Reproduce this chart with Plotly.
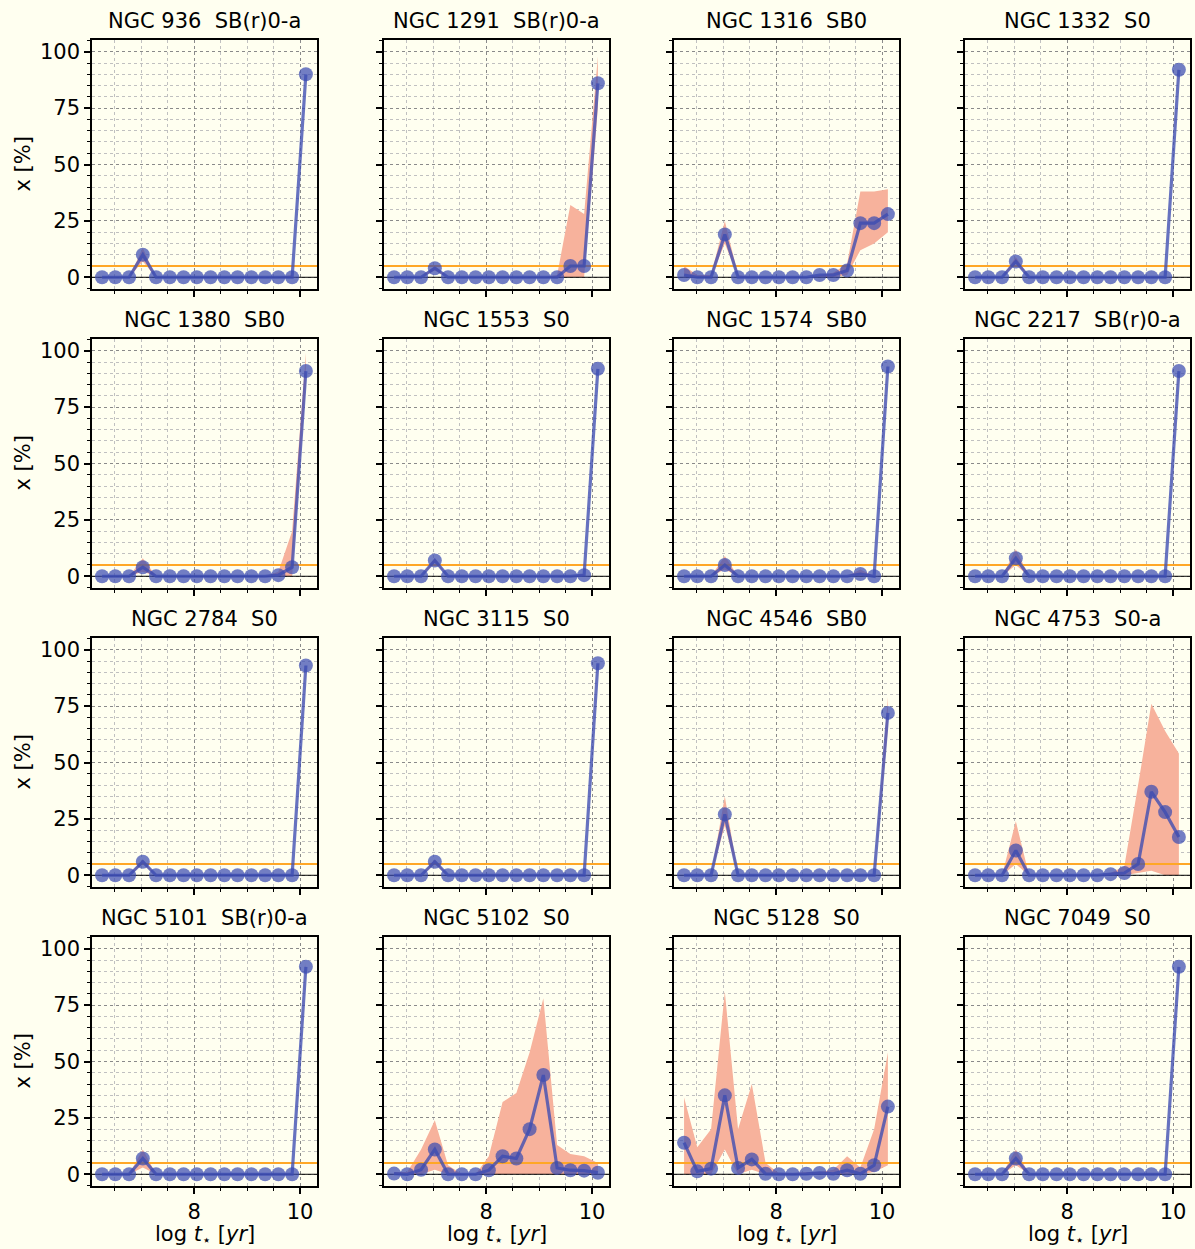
import plotly.graph_objects as go

W, H = 1195, 1249

# ---- data -------------------------------------------------------------
log_age = [6.26, 6.51, 6.77, 7.03, 7.28, 7.54, 7.80, 8.05,
           8.31, 8.57, 8.82, 9.08, 9.34, 9.59, 9.85, 10.11]

n936 = [0, 0, 0, 10, 0, 0, 0, 0, 0, 0, 0, 0, 0, 0, 0, 90]
n936_lo = [0, 0, 0, 7, 0, 0, 0, 0, 0, 0, 0, 0, 0, 0, 0, 88]
n936_hi = [0, 0, 0, 13, 0, 0, 0, 0, 0, 0, 0, 0, 0, 0, 1, 93]

n1291 = [0, 0, 0, 4, 0, 0, 0, 0, 0, 0, 0, 0, 0, 5, 5, 86]
n1291_lo = [0, 0, 0, 3, 0, 0, 0, 0, 0, 0, 0, 0, 0, 0, 0, 75]
n1291_hi = [0, 0, 0, 5, 0, 0, 0, 0, 0, 0, 0, 0, 1, 32, 28, 98]

n1316 = [1, 0, 0, 19, 0, 0, 0, 0, 0, 0, 1, 1, 3, 24, 24, 28]
n1316_lo = [0, 0, 0, 15, 0, 0, 0, 0, 0, 0, 0, 0, 1, 12, 15, 20]
n1316_hi = [5, 1, 1, 25, 1, 0, 0, 0, 0, 0, 1, 2, 6, 38, 38, 39]

n1332 = [0, 0, 0, 7, 0, 0, 0, 0, 0, 0, 0, 0, 0, 0, 0, 92]
n1332_lo = [0, 0, 0, 6, 0, 0, 0, 0, 0, 0, 0, 0, 0, 0, 0, 91]
n1332_hi = [0, 0, 0, 9, 0, 0, 0, 0, 0, 0, 0, 0, 0, 0, 0, 93]

n1380 = [0, 0, 0, 4, 0, 0, 0, 0, 0, 0, 0, 0, 0, 0.5, 4, 91]
n1380_lo = [0, 0, 0, 2, 0, 0, 0, 0, 0, 0, 0, 0, 0, 0, 0, 85]
n1380_hi = [0, 0, 0, 8, 0, 0, 0, 0, 0, 0, 0, 0, 0, 2, 20, 99]

n1553 = [0, 0, 0, 7, 0, 0, 0, 0, 0, 0, 0, 0, 0, 0, 0.5, 92]
n1553_lo = [0, 0, 0, 6, 0, 0, 0, 0, 0, 0, 0, 0, 0, 0, 0, 91]
n1553_hi = [0, 0, 0, 8, 0, 0, 0, 0, 0, 0, 0, 0, 0, 0, 1, 93]

n1574 = [0, 0, 0, 5, 0, 0, 0, 0, 0, 0, 0, 0, 0, 1, 0, 93]
n1574_lo = [0, 0, 0, 3, 0, 0, 0, 0, 0, 0, 0, 0, 0, 0, 0, 92]
n1574_hi = [0, 0, 0, 9, 0, 0, 0, 0, 0, 0, 0, 0, 0, 3, 0, 95]

n2217 = [0, 0, 0, 8, 0, 0, 0, 0, 0, 0, 0, 0, 0, 0, 0, 91]
n2217_lo = [0, 0, 0, 5, 0, 0, 0, 0, 0, 0, 0, 0, 0, 0, 0, 90]
n2217_hi = [0, 0, 0, 12, 0, 0, 0, 0, 0, 0, 0, 0, 0, 0, 0, 93]

n2784 = [0, 0, 0, 6, 0, 0, 0, 0, 0, 0, 0, 0, 0, 0, 0, 93]
n2784_lo = [0, 0, 0, 5, 0, 0, 0, 0, 0, 0, 0, 0, 0, 0, 0, 92]
n2784_hi = [0, 0, 0, 7, 0, 0, 0, 0, 0, 0, 0, 0, 0, 0, 0, 94]

n3115 = [0, 0, 0, 6, 0, 0, 0, 0, 0, 0, 0, 0, 0, 0, 0, 94]
n3115_lo = [0, 0, 0, 5, 0, 0, 0, 0, 0, 0, 0, 0, 0, 0, 0, 93]
n3115_hi = [0, 0, 0, 7, 0, 0, 0, 0, 0, 0, 0, 0, 0, 0, 0, 95]

n4546 = [0, 0, 0, 27, 0, 0, 0, 0, 0, 0, 0, 0, 0, 0, 0, 72]
n4546_lo = [0, 0, 0, 22, 0, 0, 0, 0, 0, 0, 0, 0, 0, 0, 0, 65]
n4546_hi = [0, 0, 0, 35, 0, 0, 0, 0, 0, 0, 0, 0, 0, 0, 0, 79]

n4753 = [0, 0, 0, 11, 0, 0, 0, 0, 0, 0, 0.5, 1, 5, 37, 28, 17]
n4753_lo = [0, 0, 0, 5, 0, 0, 0, 0, 0, 0, 0, 0, 1, 2, 0, 0]
n4753_hi = [0, 0, 0, 24, 0, 0, 0, 0, 0, 0, 1, 4, 40, 76, 64, 54]

n5101 = [0, 0, 0, 7, 0, 0, 0, 0, 0, 0, 0, 0, 0, 0, 0, 92]
n5101_lo = [0, 0, 0, 3, 0, 0, 0, 0, 0, 0, 0, 0, 0, 0, 0, 91]
n5101_hi = [0, 0, 0, 11, 0, 0, 0, 0, 0, 0, 0, 0, 0, 0, 0, 94]

n5102 = [0.3, 0, 2, 11, 0, 0, 0, 1.8, 8, 7, 20, 44, 2.8, 1.8, 1.6, 0.7]
n5102_lo = [0, 0, 0, 2, 0, 0, 0, 0, 0, 0, 0, 0, 0, 0, 0, 0]
n5102_hi = [1, 1, 11, 24, 4, 0, 0, 8, 32, 36, 54, 78, 13, 9, 8, 5]

n5128 = [14, 1.3, 2.5, 35, 2.8, 6.6, 0.2, 0, 0, 0.2, 0.6, 0.2, 1.8, 0.2, 4, 30]
n5128_lo = [0, 0, 0, 11, 0, 2, 0, 0, 0, 0, 0, 0, 0, 0, 1, 4]
n5128_hi = [34, 12, 20, 81, 20, 40, 5, 0.5, 0.5, 1, 1, 2, 8, 3, 20, 54]

n7049 = [0, 0, 0, 7, 0, 0, 0, 0, 0, 0, 0, 0, 0, 0, 0, 92]
n7049_lo = [0, 0, 0, 4, 0, 0, 0, 0, 0, 0, 0, 0, 0, 0, 0, 91]
n7049_hi = [0, 0, 0, 11, 0, 0, 0, 0, 0, 0, 0, 0, 0, 0, 0, 93]

names = ["NGC 936", "NGC 1291", "NGC 1316", "NGC 1332",
         "NGC 1380", "NGC 1553", "NGC 1574", "NGC 2217",
         "NGC 2784", "NGC 3115", "NGC 4546", "NGC 4753",
         "NGC 5101", "NGC 5102", "NGC 5128", "NGC 7049"]
morph = ["SB(r)0-a", "SB(r)0-a", "SB0", "S0",
         "SB0", "S0", "SB0", "SB(r)0-a",
         "S0", "S0", "SB0", "S0-a",
         "SB(r)0-a", "S0", "S0", "S0"]
values = [n936, n1291, n1316, n1332, n1380, n1553, n1574, n2217,
          n2784, n3115, n4546, n4753, n5101, n5102, n5128, n7049]
lows = [n936_lo, n1291_lo, n1316_lo, n1332_lo, n1380_lo, n1553_lo, n1574_lo, n2217_lo,
        n2784_lo, n3115_lo, n4546_lo, n4753_lo, n5101_lo, n5102_lo, n5128_lo, n7049_lo]
highs = [n936_hi, n1291_hi, n1316_hi, n1332_hi, n1380_hi, n1553_hi, n1574_hi, n2217_hi,
         n2784_hi, n3115_hi, n4546_hi, n4753_hi, n5101_hi, n5102_hi, n5128_hi, n7049_hi]

threshold = 5
x_ticks = [8, 10]
x_minor = [6.5, 7, 7.5, 8.5, 9, 9.5]
y_ticks = [0, 25, 50, 75, 100]

# ---- style / layout ---------------------------------------------------
XR = [6.07, 10.32]
YR = [-5.2, 105.2]
BG = "#fffff0"
BLUE_LINE = "rgba(60,76,178,0.78)"
BLUE_MARK = "rgba(60,76,178,0.72)"
FILL = "#f7b29c"
FONT = "DejaVu Sans"
TICK_FS = 21
TEXT_FS = 21

col_left = [92, 384, 674, 965]
panel_w = 225
row_top = [40, 339, 638, 937]
panel_h = 249

fig = go.Figure()
annotations = []

for i in range(16):
    r, c = divmod(i, 4)
    ax = "" if i == 0 else str(i + 1)
    xa, ya = "x" + ax, "y" + ax
    x0 = col_left[c] / W
    x1 = (col_left[c] + panel_w) / W
    y1 = 1 - row_top[r] / H
    y0 = 1 - (row_top[r] + panel_h) / H

    # band
    fig.add_trace(go.Scatter(
        x=log_age + log_age[::-1], y=highs[i] + lows[i][::-1],
        fill="toself", fillcolor=FILL, line=dict(width=0),
        mode="lines", hoverinfo="skip", showlegend=False,
        xaxis=xa, yaxis=ya))
    # zero line
    fig.add_trace(go.Scatter(
        x=XR, y=[0, 0], mode="lines", line=dict(color="black", width=1),
        showlegend=False, hoverinfo="skip", xaxis=xa, yaxis=ya))
    # threshold line
    fig.add_trace(go.Scatter(
        x=XR, y=[threshold, threshold], mode="lines",
        line=dict(color="#ffa726", width=2),
        showlegend=False, hoverinfo="skip", xaxis=xa, yaxis=ya))
    # main line
    fig.add_trace(go.Scatter(
        x=log_age, y=values[i], mode="lines+markers",
        line=dict(color=BLUE_LINE, width=3.2),
        marker=dict(color=BLUE_MARK, size=14, line=dict(width=0)),
        showlegend=False, xaxis=xa, yaxis=ya))

    fig.layout["xaxis" + ax] = dict(
        domain=[x0, x1], anchor=ya, range=XR,
        tickmode="array", tickvals=x_ticks, ticktext=[str(t) for t in x_ticks],
        showticklabels=(r == 3),
        ticks="outside", ticklen=6, tickwidth=1.5, tickcolor="black",
        tickfont=dict(family=FONT, size=TICK_FS, color="black"),
        showgrid=True, gridcolor="#8a8a8a", griddash="dot", gridwidth=1,
        minor=dict(tickmode="array", tickvals=x_minor,
                   ticks="outside", ticklen=3, tickwidth=1, tickcolor="black",
                   showgrid=True, gridcolor="#c0c0c0", griddash="dot", gridwidth=1),
        showline=True, mirror=True, linecolor="black", linewidth=1.5,
        zeroline=False, fixedrange=True)
    fig.layout["yaxis" + ax] = dict(
        domain=[y0, y1], anchor=xa, range=YR,
        tickmode="array", tickvals=y_ticks, ticktext=[str(t) for t in y_ticks],
        showticklabels=(c == 0),
        ticks="outside", ticklen=6, tickwidth=1.5, tickcolor="black",
        tickfont=dict(family=FONT, size=TICK_FS, color="black"),
        showgrid=True, gridcolor="#8a8a8a", griddash="dot", gridwidth=1,
        minor=dict(tickmode="linear", tick0=0, dtick=5,
                   ticks="outside", ticklen=3, tickwidth=1, tickcolor="black",
                   showgrid=True, gridcolor="#c0c0c0", griddash="dot", gridwidth=1),
        showline=True, mirror=True, linecolor="black", linewidth=1.5,
        zeroline=False, fixedrange=True)

    annotations.append(dict(
        text=names[i] + "\u00a0\u00a0" + morph[i],
        x=(x0 + x1) / 2, y=1 - (row_top[r] - 19) / H,
        xref="paper", yref="paper", xanchor="center", yanchor="middle",
        showarrow=False, font=dict(family=FONT, size=TEXT_FS, color="black")))
    if c == 0:
        annotations.append(dict(
            text="x [%]", textangle=-90,
            x=22 / W, y=1 - (row_top[r] + panel_h / 2) / H,
            xref="paper", yref="paper", xanchor="center", yanchor="middle",
            showarrow=False, font=dict(family=FONT, size=TEXT_FS, color="black")))
    if r == 3:
        annotations.append(dict(
            text="log <i>t</i><sub>\u22c6</sub> [<i>yr</i>]",
            x=(x0 + x1) / 2, y=1 - 1235 / H,
            xref="paper", yref="paper", xanchor="center", yanchor="middle",
            showarrow=False, font=dict(family=FONT, size=TEXT_FS, color="black")))

fig.update_layout(
    width=W, height=H, margin=dict(l=0, r=0, t=0, b=0),
    paper_bgcolor=BG, plot_bgcolor=BG,
    annotations=annotations, showlegend=False,
    font=dict(family=FONT, color="black"))

fig.write_html("out.html",
               config={"displayModeBar": False},
               post_script="document.body.style.margin='0';"
                           "document.body.style.overflow='hidden';")
